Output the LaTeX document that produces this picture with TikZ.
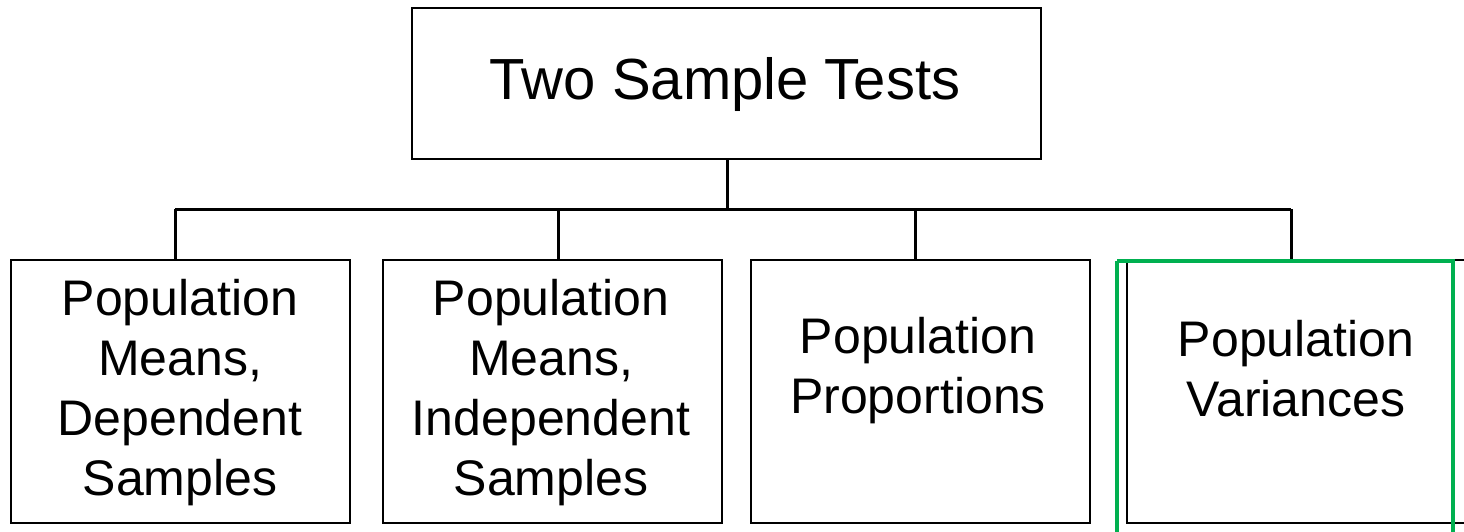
\documentclass[tikz,border=0pt]{standalone}
\usepackage{fontspec}
\setmainfont{Liberation Sans}
\definecolor{boxgreen}{RGB}{0,176,80}
\begin{document}
\begin{tikzpicture}[x=1pt,y=-1pt,
  blackbox/.style={draw=black,line width=2.8pt,fill=none},
  conn/.style={draw=black,line width=3pt},
  toptext/.style={inner sep=0pt,align=center,font=\fontsize{58}{69}\selectfont},
  subtext/.style={inner sep=0pt,align=center,font=\fontsize{50}{60}\selectfont}]
\useasboundingbox (0,0) rectangle (1464,531);
\clip (0,0) rectangle (1464,531);
% boxes
\draw[blackbox] (412,8) rectangle (1041,159);
\coordinate (topb) at (727,159);
\draw[blackbox] (11,260) rectangle (350,523);
\draw[blackbox] (383,260) rectangle (722,523);
\draw[blackbox] (751,260) rectangle (1090,523);
\draw[blackbox] (1127,260) rectangle (1466,523);
% junction coordinates
\coordinate (bus) at (727,209);
\coordinate (b1) at (175,260);
\coordinate (b2) at (558,260);
\coordinate (b3) at (915,260);
\coordinate (b4) at (1291,260);
% connectors
\draw[conn] (topb) -- (bus);
\draw[conn] (b1 |- bus) -- (b4 |- bus);
\draw[conn] (b1 |- bus) -- (b1);
\draw[conn] (b2 |- bus) -- (b2);
\draw[conn] (b3 |- bus) -- (b3);
\draw[conn] (b4 |- bus) -- (b4);
% green frame
\draw[boxgreen,line width=3.2pt] (1117,261) -- (1453,261) -- (1453,540);
\draw[boxgreen,line width=3.2pt] (1117,261) -- (1117,540);
% texts
\node[toptext,anchor=base] (t0) at (725,99) {Two Sample Tests};
\node[subtext] (t1) at (180,393) {Population\\Means,\\Dependent\\Samples};
\node[subtext] (t2) at (551,393) {Population\\Means,\\Independent\\Samples};
\node[subtext] (t3) at (918,371) {Population\\Proportions};
\node[subtext] (t4) at (1296,369) {Population\\Variances};
\end{tikzpicture}
\end{document}
